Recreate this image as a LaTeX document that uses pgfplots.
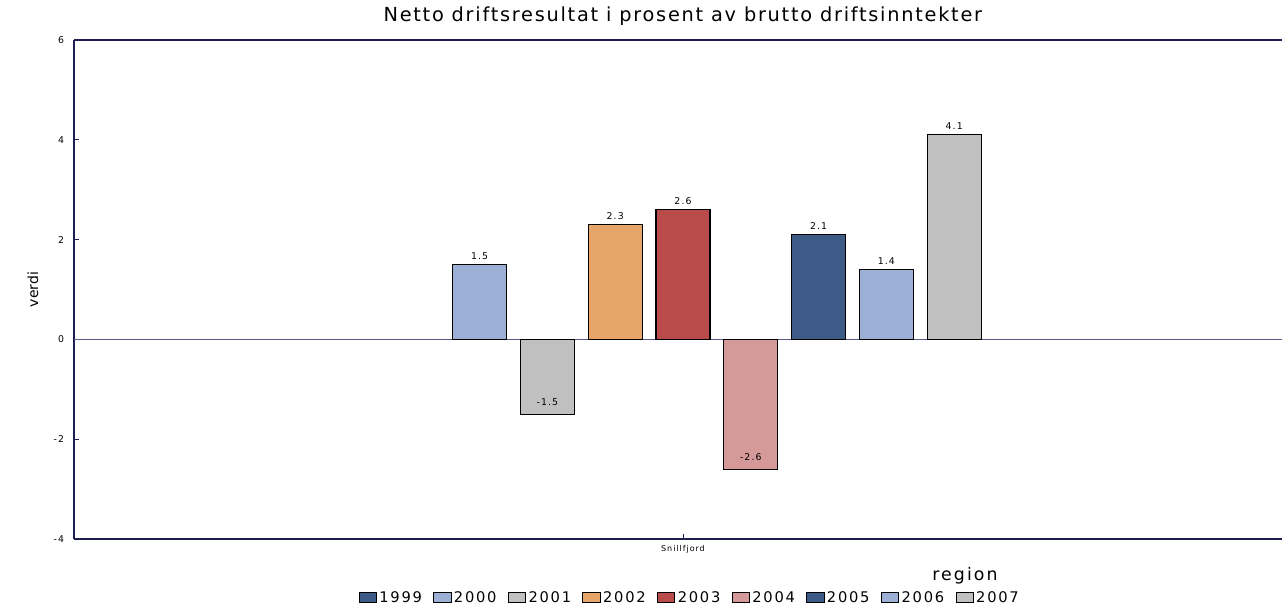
\documentclass[border=0pt]{standalone}
\usepackage{pgfplots}
\pgfplotsset{compat=1.18}
\usepackage{fontspec}
\setmainfont{DejaVu Sans}
\newfontfamily\wide[LetterSpace=12]{DejaVu Sans}
\newfontfamily\widet[LetterSpace=9]{DejaVu Sans}
\definecolor{cA}{HTML}{3E5A86}
\definecolor{cB}{HTML}{9CAFD5}
\definecolor{cC}{HTML}{C0C0C0}
\definecolor{cD}{HTML}{E6A669}
\definecolor{cE}{HTML}{BA4B4B}
\definecolor{cF}{HTML}{D6999A}
\definecolor{axcol}{HTML}{1E1E50}
\definecolor{zerocol}{HTML}{5A5A8C}
\begin{document}
\begin{tikzpicture}
\begin{axis}[
  at={(0,0)}, anchor=south west,
  scale only axis, width=906pt, height=374.25pt,
  xmin=-4.982, xmax=12.835, ymin=-4, ymax=6,
  axis x line=box, axis y line=left,
  axis line style={-, color=axcol, line width=0.9pt},
  ytick={-4,-2,0,2,4,6},
  xtick={4}, xticklabels={Snillfjord},
  xtick pos=left, ytick pos=left,
  tick align=inside, major tick length=3.5pt,
  tick style={color=axcol, line width=0.6pt},
  yticklabel style={font=\wide\fontsize{7}{8}\selectfont, xshift=-4pt},
  xticklabel style={font=\wide\fontsize{6}{7}\selectfont, yshift=-1pt},
  /pgf/number format/assume math mode=true,
  extra y ticks={0}, extra y tick labels={},
  extra y tick style={grid=major, major grid style={color=zerocol, line width=0.6pt}, tick style={draw=none}},
  title={Netto driftsresultat i prosent av brutto driftsinntekter},
  every axis title/.style={at={(axis description cs:0.504,1)}, yshift=18pt, anchor=center, font=\widet\fontsize{14.5}{16}\selectfont},
  ylabel={verdi},
  every axis y label/.style={at={(axis description cs:0,0.5)}, xshift=-30.75pt, rotate=90, anchor=center, font=\fontsize{10.5}{12}\selectfont},
  xlabel={region},
  every axis x label/.style={at={(axis description cs:0.7376,0)}, yshift=-27.75pt, anchor=center, font=\wide\fontsize{13}{15}\selectfont},
  legend columns=9,
  legend style={at={(axis description cs:0.51,0)}, yshift=-52pt, anchor=south, draw=none, fill=none,
    font=\wide\fontsize{11}{12}\selectfont, inner sep=1pt,
    /tikz/every even column/.append style={column sep=6.5pt}},
  legend image code/.code={\draw[#1, draw=black, line width=0.5pt] (0pt,-3.6pt) rectangle (13pt,3.6pt);},
  nodes near coords,
  nodes near coords style={/pgf/number format/fixed, /pgf/number format/fixed zerofill,
    /pgf/number format/precision=1, /pgf/number format/assume math mode=true,
    /tikz/font=\wide\fontsize{7}{8}\selectfont, /tikz/color=black},
  every axis plot/.append style={ybar, bar width=0.796, bar shift=0, draw=black, line width=0.9pt},
]
\addlegendimage{fill=cA}
\addlegendentry{1999}
\addplot[fill=cB] coordinates {(1,1.5)};
\addlegendentry{2000}
\addplot[fill=cC, nodes near coords align=center, every node near coord/.append style={/tikz/yshift=9pt}] coordinates {(2,-1.5)};
\addlegendentry{2001}
\addplot[fill=cD] coordinates {(3,2.3)};
\addlegendentry{2002}
\addplot[fill=cE] coordinates {(4,2.6)};
\addlegendentry{2003}
\addplot[fill=cF, nodes near coords align=center, every node near coord/.append style={/tikz/yshift=9pt}] coordinates {(5,-2.6)};
\addlegendentry{2004}
\addplot[fill=cA] coordinates {(6,2.1)};
\addlegendentry{2005}
\addplot[fill=cB] coordinates {(7,1.4)};
\addlegendentry{2006}
\addplot[fill=cC] coordinates {(8,4.1)};
\addlegendentry{2007}
\end{axis}
\pgfresetboundingbox
\useasboundingbox (-55.5pt,-48.75pt) rectangle (906pt,404.25pt);
\end{tikzpicture}
\end{document}
